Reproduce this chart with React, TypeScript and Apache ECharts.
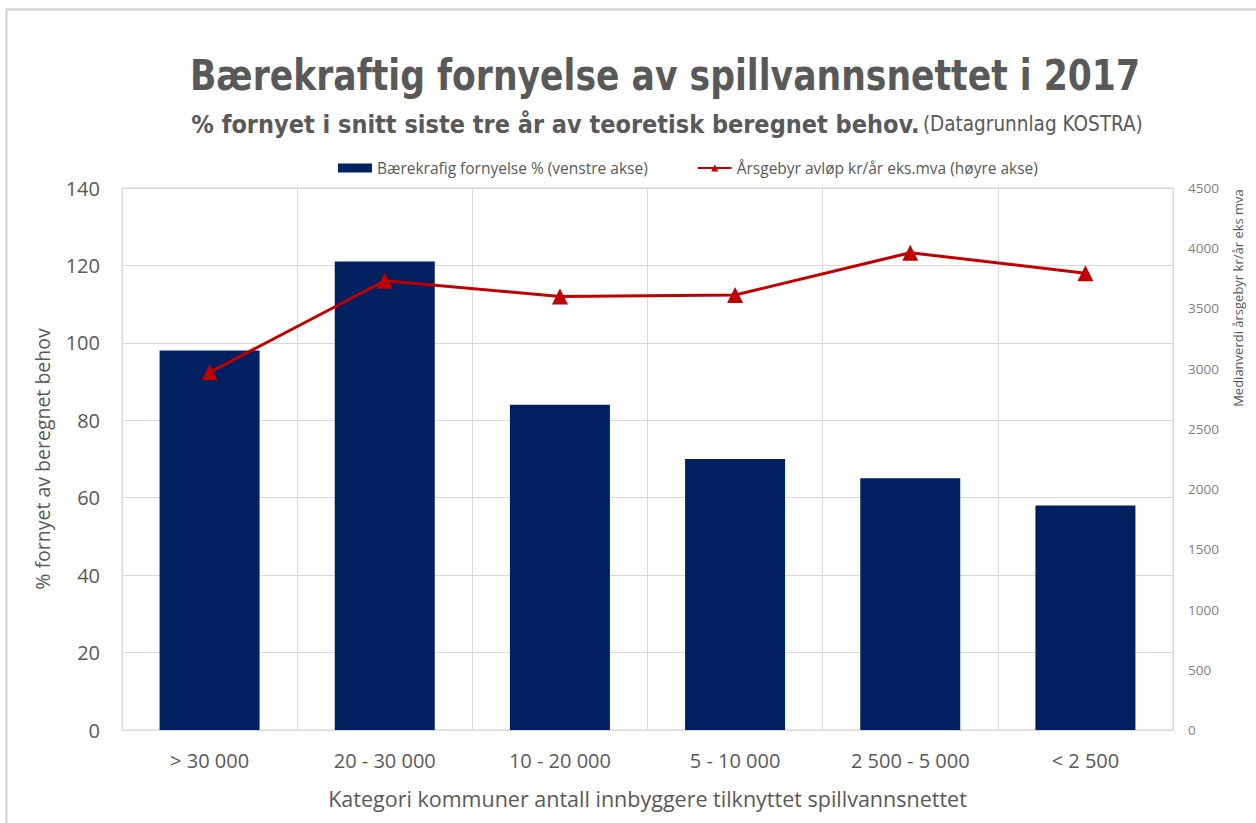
import React, { useEffect, useRef } from "react";
import * as echarts from "echarts";

const categories = ["> 30 000", "20 - 30 000", "10 - 20 000", "5 - 10 000", "2 500 - 5 000", "< 2 500"];
const fornyelse = [98, 121, 84, 70, 65, 58];
const aarsgebyr = [2970, 3730, 3600, 3612, 3963, 3792];
const leftTicks = { min: 0, max: 140, interval: 20 };
const rightTicks = { min: 0, max: 4500, interval: 500 };

const FONT = "'Open Sans', 'Liberation Sans', sans-serif";
const COND = "'DejaVu Sans Condensed', 'Liberation Sans Narrow', sans-serif";
const GREY = "#595959";

export default function App() {
  const ref = useRef<HTMLDivElement>(null);
  useEffect(() => {
    document.body.style.margin = "0";
    const chart = echarts.init(ref.current!, undefined, { renderer: "svg" });
    chart.setOption({
      animation: false,
      backgroundColor: "#ffffff",
      textStyle: { fontFamily: FONT },
      graphic: [
        {
          type: "rect",
          shape: { x: 6.5, y: 9.5, width: 1400, height: 1000 },
          style: { fill: "none", stroke: "#d0d0d0", lineWidth: 2 },
          silent: true,
        },
        {
          type: "text",
          x: 665,
          y: 75,
          scaleY: 1.12,
          style: {
            text: "Bærekraftig fornyelse av spillvannsnettet i 2017",
            font: "bold 38.5px " + COND,
            fill: GREY,
            align: "center",
            verticalAlign: "middle",
          },
        },
        {
          type: "text",
          x: 667,
          y: 124,
          style: {
            text: "{b|% fornyet i snitt siste tre år av teoretisk beregnet behov.} {n|(Datagrunnlag KOSTRA)}",
            align: "center",
            verticalAlign: "middle",
            rich: {
              b: { font: "bold 25px " + COND, fill: GREY },
              n: { font: "20.5px " + COND, fill: GREY },
            },
          },
        },
        {
          type: "text",
          x: 1238,
          y: 298,
          rotation: Math.PI / 2,
          style: {
            text: "Medianverdi årsgebyr kr/år eks mva",
            font: "13px " + FONT,
            fill: GREY,
            align: "center",
            verticalAlign: "middle",
          },
        },
      ],
      legend: {
        top: 155,
        left: 333,
        itemGap: 49,
        itemWidth: 34,
        itemHeight: 9,
        textStyle: { fontSize: 15.5, color: GREY, fontFamily: FONT },
        data: [
          { name: "Bærekrafig fornyelse % (venstre akse)", icon: "rect" },
          { name: "Årsgebyr avløp kr/år eks.mva (høyre akse)" },
        ],
      },
      grid: {
        left: 122,
        right: 83,
        top: 188,
        bottom: 93,
        show: true,
        borderColor: "#d9d9d9",
        borderWidth: 1,
      },
      xAxis: {
        type: "category",
        data: categories,
        axisLine: { show: true, lineStyle: { color: "#d9d9d9" } },
        axisTick: { show: false },
        splitLine: { show: true, lineStyle: { color: "#d9d9d9", width: 1 } },
        axisLabel: { color: GREY, fontSize: 20, margin: 20, fontFamily: FONT },
        name: "Kategori kommuner antall innbyggere tilknyttet spillvannsnettet",
        nameLocation: "middle",
        nameGap: 57,
        nameTextStyle: { color: GREY, fontSize: 21.5, fontFamily: FONT },
      },
      yAxis: [
        {
          type: "value",
          min: leftTicks.min,
          max: leftTicks.max,
          interval: leftTicks.interval,
          axisLine: { show: false },
          axisTick: { show: false },
          splitLine: { lineStyle: { color: "#d9d9d9", width: 1 } },
          axisLabel: { color: GREY, fontSize: 20, margin: 22, fontFamily: FONT },
          name: "% fornyet av beregnet behov",
          nameLocation: "middle",
          nameGap: 70,
          nameTextStyle: { color: GREY, fontSize: 19.5, fontFamily: FONT },
        },
        {
          type: "value",
          min: rightTicks.min,
          max: rightTicks.max,
          interval: rightTicks.interval,
          alignTicks: false,
          axisLine: { show: false },
          axisTick: { show: false },
          splitLine: { show: false },
          axisLabel: {
            color: "#7f7f7f",
            fontSize: 13.5,
            margin: 15,
            fontFamily: FONT,
            formatter: (v: number) => String(v),
          },
        },
      ],
      series: [
        {
          name: "Bærekrafig fornyelse % (venstre akse)",
          type: "bar",
          data: fornyelse,
          yAxisIndex: 0,
          barWidth: 100,
          itemStyle: { color: "#002060" },
        },
        {
          name: "Årsgebyr avløp kr/år eks.mva (høyre akse)",
          type: "line",
          data: aarsgebyr,
          yAxisIndex: 1,
          symbol: "triangle",
          symbolSize: 16,
          lineStyle: { color: "#c00000", width: 3 },
          itemStyle: { color: "#c00000" },
        },
      ],
    });
    return () => chart.dispose();
  }, []);
  return <div ref={ref} style={{ width: 1256, height: 823 }} />;
}
